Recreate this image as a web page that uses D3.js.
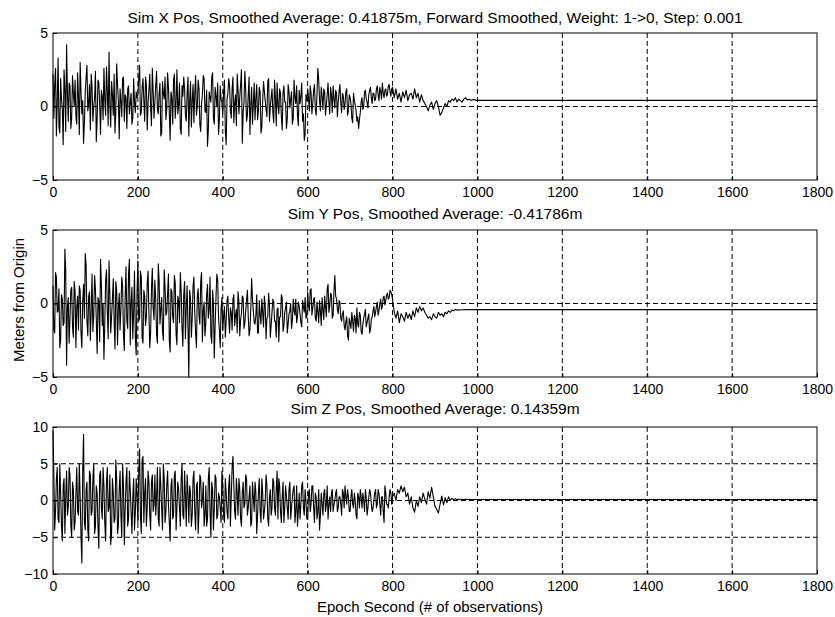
<!DOCTYPE html>
<html><head><meta charset="utf-8">
<script src="https://cdn.jsdelivr.net/npm/d3@7"></script>
<style>body{margin:0;background:#fff}text{font-family:"Liberation Sans",Arial,sans-serif;fill:#000}</style>
</head><body><svg id="chart" width="835" height="617"></svg>
<script>
// Hand-read samples: main arrays at epochs 0,4,...,996; "mid" arrays at epochs 2,6,...,798
const sampleStep = 4;
const midOffset = 2;

// Sim X Pos (m)
const xPosValues = [
 2.2,1.5,-2.0,3.3,-1.8,0.5,-2.6,1.2,4.2,-1.0, 1.4,-0.8,0.9,1.8,-1.2,0.6,3.0,-0.5,-2.5,1.0,
 2.8,0.2,-1.6,1.3,0.0,2.4,-0.9,1.6,-1.9,0.7, 2.6,-0.6,1.1,3.7,-1.4,0.8,2.2,-0.3,1.5,-2.2,
 0.4,1.9,-1.0,0.6,1.2,-0.5,0.9,-0.8,0.3,1.0,
 0.8,2.8,-0.4,1.9,-1.0,1.5,0.2,2.2,-1.3,1.0, 0.3,2.4,-0.5,1.6,-1.8,0.9,2.0,-0.2,1.3,-2.3,
 0.6,1.8,-0.8,2.5,0.1,-1.5,1.4,2.0,-0.6,0.9, -2.0,1.7,0.4,-1.1,2.1,0.0,1.2,-1.7,0.8,1.9,
 -0.4,-2.7,1.0,0.3,2.3,-1.2,0.7,1.6,-0.9,0.5,
 -0.5,1.8,-2.6,0.9,1.4,-0.8,2.0,0.2,-1.3,1.1, 0.6,2.5,-0.4,2.4,-1.0,0.8,-1.9,1.3,0.1,-0.9,
 1.5,-0.3,1.0,-1.4,1.7,0.4,-0.7,1.9,0.0,1.2, -1.1,0.6,1.6,-0.5,0.9,-1.6,1.4,0.3,-0.8,1.0,
 0.5,-1.2,1.8,0.2,-0.6,1.1,0.7,-1.0,-2.3,0.8,
 1.2,-0.3,0.9,0.2,1.5,-0.6,2.6,0.4,1.3,-0.2, 1.0,0.1,1.6,-0.5,0.8,1.4,-0.1,0.9,0.3,1.5,
 -0.4,0.7,0.2,1.2,-0.3,0.6,-0.8,0.9,0.1,-1.0, -1.5,-0.4,0.6,0.0,1.1,0.3,0.8,1.3,0.2,0.9,
 0.5,1.4,0.4,1.0,1.6,0.6,1.2,0.8,1.5,0.7,
 1.3,0.6,1.2,0.5,0.9,0.3,1.0,0.6,1.1,0.4, 0.8,0.9,0.5,1.2,0.6,0.9,0.3,0.8,0.4,0.2,
 0.0,-0.3,0.1,0.3,-0.2,0.2,0.4,0.0,-0.6,-0.4, -0.1,0.2,0.0,0.4,0.3,0.5,0.4,0.6,0.3,0.5,
 0.4,0.3,0.5,0.6,0.45,0.5,0.42,0.45,0.48,0.42
];
const xPosMid = [
 -0.8,2.6,0.3,-1.4,1.9,-0.2,2.5,-1.7,0.9,1.6, -1.5,2.1,0.0,-0.7,2.3,-1.9,1.0,0.4,-1.1,2.0,
 -0.3,1.5,2.2,-1.0,0.6,-2.4,1.8,0.2,1.1,-0.9, 0.5,2.7,-1.3,0.1,1.7,-0.6,-1.8,2.9,0.3,1.2,
 -0.7,2.0,0.8,-1.5,1.4,0.2,-1.2,1.9,-0.4,0.6,
 1.9,-0.6,1.3,0.4,2.0,-1.6,1.1,0.0,2.6,-0.8, 1.4,-0.2,0.9,-2.0,1.7,0.5,-0.9,2.3,-0.4,1.0,
 -1.2,2.2,0.3,-0.5,1.6,-1.9,0.7,1.2,-1.0,2.0, 0.4,-1.4,1.5,0.9,-0.6,1.8,-1.2,0.2,2.1,-0.3,
 1.1,-1.6,0.6,2.0,-0.8,1.3,0.0,-1.9,1.4,0.3,
 1.0,-1.7,0.5,1.9,-0.3,1.2,-1.1,0.8,2.2,-0.5, 1.5,-2.5,0.3,1.1,-0.6,2.0,0.1,-1.2,1.6,0.6,
 -0.9,1.3,-1.8,0.4,1.0,-0.2,1.7,-1.0,0.6,-0.4, 1.8,-1.3,0.2,1.2,-0.7,0.9,0.3,-1.5,1.5,-0.1,
 1.0,-0.8,0.6,1.4,-1.3,0.2,1.6,-0.5,-1.9,0.4,
 0.6,1.4,-0.5,1.1,-0.2,0.9,1.8,-0.3,0.7,1.2, -0.6,0.8,0.3,1.3,-0.4,0.6,1.1,-0.7,1.0,0.2,
 0.9,-0.2,1.0,-0.6,0.8,0.2,-1.1,0.4,-0.3,-0.7, -0.9,0.3,-0.2,1.0,0.5,-0.1,1.1,0.6,0.9,0.4,
 1.2,0.8,1.3,0.5,0.9,1.1,0.7,1.4,1.0,1.2
];

// Sim Y Pos (m)
const yPosValues = [
 1.2,-2.0,1.8,-0.5,-3.0,0.6,-1.5,3.7,-4.2,0.4, -1.0,1.1,-2.3,0.8,-0.2,-1.8,0.9,-3.0,1.3,3.4,
 -1.2,0.5,-2.5,2.0,-0.8,1.0,-3.4,0.2,3.0,-1.5, -3.8,1.6,-0.6,2.9,-2.0,0.3,-1.1,1.5,-2.8,0.7,
 -0.4,1.2,-3.2,2.5,-1.7,3.0,0.1,-2.4,2.2,-3.5,
 2.9,-1.0,1.8,-2.7,0.5,-0.9,2.2,-3.0,1.0,-0.3, 1.6,-2.1,2.7,-1.4,0.4,-2.5,1.1,-0.6,2.0,-3.3,
 0.8,-1.3,1.4,-2.8,0.2,2.1,-1.7,0.6,-2.4,1.2, -5.0,0.3,-1.0,1.8,-2.0,0.5,-0.8,1.5,-2.6,0.1,
 -1.4,1.3,-0.5,-2.2,0.9,-3.7,0.4,1.6,-1.8,-0.3,
 -1.8,-0.2,-1.2,0.5,-2.0,-0.6,0.3,-1.5,-0.4,0.8, -2.2,-0.7,0.4,-1.3,0.2,-0.9,-1.8,1.7,-0.5,-1.4,
 0.6,-2.0,-0.8,0.3,-1.6,-0.2,-1.0,0.7,-2.3,-0.6, 0.1,-1.2,-0.4,-2.6,-0.9,0.4,-1.5,-0.3,-2.0,-0.7,
 0.0,-1.1,-0.5,0.3,-0.9,-0.2,-1.3,0.2,-0.6,-1.0,
 0.8,-0.5,1.0,-0.3,0.4,-1.2,-0.6,0.2,-1.5,-0.4, 0.5,-0.9,1.3,-0.2,0.6,-0.8,1.9,0.3,-0.7,0.1,
 -1.2,-0.5,-1.8,-0.9,-2.5,-1.3,-0.6,-1.9,-1.0,-0.3, -1.6,-0.8,-2.1,-1.0,-0.4,-1.3,-0.7,-1.8,-0.9,-0.2,
 -0.6,0.1,-0.5,0.3,-0.2,0.5,0.2,0.7,0.4,0.8,
 0.3,-0.6,-1.0,-0.5,-1.3,-0.7,-0.9,-1.2,-0.6,-1.0, -0.7,-1.1,-0.5,-0.9,-0.3,-0.6,-0.2,-0.5,-0.3,-0.6,
 -0.8,-1.0,-0.9,-1.1,-0.7,-0.9,-1.0,-0.6,-0.8,-0.7, -0.9,-0.6,-0.7,-0.5,-0.6,-0.45,-0.5,-0.4,-0.45,-0.42,
 -0.44,-0.42,-0.43,-0.41,-0.42,-0.42,-0.41,-0.42,-0.42,-0.42
];
const yPosMid = [
 -1.8,2.1,-0.6,1.0,-2.5,0.3,-1.3,2.2,-0.2,-2.7, 0.9,-1.6,1.5,-3.0,0.5,1.2,-2.0,0.2,-1.0,2.6,
 -2.2,0.8,-0.5,-1.9,1.9,-1.1,0.4,-2.6,1.3,0.0, -1.4,2.3,-2.4,0.6,-0.9,1.7,-3.1,0.9,-0.3,-1.8,
 1.8,-2.1,0.4,-1.2,2.0,-2.8,1.1,-0.6,-2.3,0.7,
 -1.2,2.2,-2.3,0.9,-1.5,1.4,-0.7,-2.0,2.4,-1.1, 0.3,-2.7,1.6,-0.4,-1.9,2.3,-0.8,0.7,-2.5,1.0,
 -0.9,1.9,-2.1,0.5,-1.3,0.8,-2.9,1.5,-0.2,-1.6, 0.9,-2.3,1.2,-0.6,-3.0,1.0,-1.4,2.1,-0.5,-2.2,
 0.6,-1.0,1.8,-2.7,0.0,-1.5,2.0,-0.9,-3.0,0.4,
 -0.9,-2.3,0.2,-1.0,-0.3,-1.8,0.6,-0.8,-2.0,0.1, -1.1,0.5,-1.7,-0.5,0.9,-2.2,-0.4,0.3,-1.3,-0.8,
 -2.0,0.2,-1.4,-0.6,0.5,-2.4,-0.9,-0.1,-1.5,0.3, -1.2,-2.3,-0.3,-0.9,0.6,-1.9,-0.6,0.1,-1.4,-0.5,
 -1.7,0.3,-0.8,-1.3,0.1,-0.7,-1.6,-0.2,0.4,-0.9,
 -0.2,0.9,-0.8,0.3,-1.0,0.1,-1.3,-0.5,0.4,-1.1, -0.2,1.0,-0.6,0.7,-1.0,0.9,0.5,-0.4,0.2,-1.0,
 -0.7,-1.5,-1.2,-2.2,-1.0,-1.7,-1.2,-0.8,-2.0,-1.4, -0.6,-1.9,-1.4,-0.7,-1.6,-1.0,-2.0,-1.1,-0.5,-0.9,
 -0.2,-0.8,0.0,-0.4,0.4,-0.1,0.6,0.3,0.9,0.6
];

// Sim Z Pos (m)
const zPosValues = [
 9.5,-4.0,3.0,-2.5,5.0,-3.5,2.0,-4.5,4.0,-1.0, 3.5,-5.0,1.5,-3.0,4.5,-2.0,0.5,-8.5,9.0,-4.0,
 2.5,-5.5,3.5,-1.5,5.0,-3.5,1.0,-6.5,4.0,-2.5, 2.0,-5.5,4.5,-1.0,-6.0,3.0,-3.0,5.5,-4.5,1.5,
 -2.0,5.0,-6.0,2.5,-3.5,4.0,-1.5,0.5,-4.0,3.0,
 -3.0,7.0,-4.5,6.0,1.0,-3.5,4.0,-2.0,2.5,-1.5, 3.5,0.5,-2.5,4.5,-1.0,5.0,-3.0,2.0,-0.5,-5.5,
 3.0,-2.0,4.0,-1.0,1.5,-3.5,5.0,-2.5,0.5,3.5, -3.0,1.0,-2.0,4.0,-4.0,2.5,-1.5,3.0,0.0,-3.5,
 2.0,-2.5,4.5,-5.0,1.5,-1.0,3.0,-2.0,0.5,-3.0,
 2.0,-3.0,1.0,-2.5,3.5,0.5,6.0,-1.5,3.0,-2.0, 1.5,-3.5,2.5,-0.5,3.0,-1.0,2.0,-3.0,0.5,2.5,
 -4.5,1.0,-1.5,3.0,-2.5,0.0,2.0,-3.5,1.5,-1.0, 2.5,-2.0,4.0,3.0,-1.5,0.5,-3.0,2.0,-1.0,1.5,
 -2.5,0.5,2.0,-1.5,-3.5,1.0,-0.5,2.5,-2.0,0.0,
 -2.5,1.5,-0.5,2.0,-3.0,0.5,-1.5,-4.0,1.0,-2.0, 1.5,-0.5,-2.5,0.5,1.0,-1.5,0.0,1.5,-1.0,0.5,
 -2.0,1.0,2.0,-0.5,0.5,-1.5,1.5,-1.0,0.0,-2.5, 0.5,1.5,-1.0,0.0,1.5,-2.0,0.5,1.0,-1.5,0.0,
 1.5,-0.5,1.0,-2.0,0.5,-3.0,1.0,-0.5,0.5,1.0,
 0.5,1.0,0.0,1.5,1.0,2.0,1.2,1.8,0.5,1.0, -0.5,0.5,-1.0,-1.6,0.0,-0.8,0.5,-0.3,1.0,0.2,
 -0.5,1.2,0.3,1.8,0.5,-0.8,-1.2,-1.7,-0.5,0.6, -0.6,0.4,-0.3,0.5,0.0,0.3,0.1,0.25,0.1,0.2,
 0.12,0.16,0.14,0.15,0.14,0.14,0.14,0.14,0.14,0.14
];
const zPosMid = [
 3.5,-1.5,4.5,-3.0,1.0,-5.5,3.0,0.5,-2.0,4.5, -3.5,2.5,-4.0,1.0,-1.5,5.0,-5.0,4.0,-3.0,1.5,
 -4.0,4.0,-2.0,3.0,-4.5,2.0,-3.5,3.5,-1.0,4.5, -3.0,2.5,-1.5,3.5,-4.5,1.0,-2.5,3.0,-3.5,4.0,
 -5.0,2.0,-1.0,4.5,-2.5,1.5,-4.5,3.0,-1.5,0.5,
 4.0,-2.0,5.5,-3.0,3.0,-1.0,2.5,-4.0,3.5,-0.5, -2.0,4.5,-3.5,2.0,-4.0,3.0,-1.5,4.0,-3.0,2.0,
 -2.5,3.5,-4.0,2.5,-1.0,3.0,-2.0,4.0,-3.5,1.0, 2.0,-3.5,3.0,-1.5,2.0,-4.5,3.5,-1.0,2.5,-2.0,
 -3.5,3.0,-1.5,2.5,-4.0,3.5,-2.5,1.0,-1.0,4.0,
 -2.0,3.0,-1.5,2.0,-3.5,4.5,2.0,-2.5,1.0,3.0, -2.5,1.0,-1.0,3.5,-2.0,0.5,-3.5,2.5,-1.5,1.0,
 -2.0,3.0,-3.0,1.0,-1.5,3.5,-2.5,0.5,-2.0,3.0, -1.0,1.5,-2.5,2.0,-3.0,2.5,-1.0,0.5,-2.5,2.5,
 -1.0,1.5,-3.0,2.0,-1.5,-2.5,2.0,-1.0,1.5,-2.5,
 1.0,-1.5,2.0,-1.0,1.0,-2.5,1.5,-2.0,-0.5,1.0, -1.5,2.0,-0.5,-1.5,1.5,-0.5,1.0,-1.5,0.5,-0.5,
 1.5,-1.0,0.5,1.5,-1.5,0.5,-0.5,1.0,-2.0,1.0, -1.0,0.5,1.0,-1.5,0.5,-1.0,1.5,-0.5,-1.0,1.0,
 -1.0,1.5,-0.5,0.5,-1.5,2.0,-0.5,-1.0,1.5,-0.5
];

const smoothedAverages = [0.41875, -0.41786, 0.14359];
const flatEpochs = [1000, 1800];
const titles = [
 "Sim X Pos, Smoothed Average: 0.41875m, Forward Smoothed, Weight: 1->0, Step: 0.001",
 "Sim Y Pos, Smoothed Average: -0.41786m",
 "Sim Z Pos, Smoothed Average: 0.14359m"
];
const xTickValues = [0,200,400,600,800,1000,1200,1400,1600,1800];
const yTickValues = [[-5,0,5],[-5,0,5],[-10,-5,0,5,10]];
const yDomains = [[-5,5],[-5,5],[-10,10]];
const yAxisLabel = "Meters from Origin";
const xAxisLabel = "Epoch Second (# of observations)";

const svg = d3.select("#chart");
const left = 53, right = 817;
const panels = [{top:33,bottom:180,titleY:23},{top:230,bottom:377,titleY:219},{top:427,bottom:574,titleY:414}];
const seriesList = [[xPosValues,xPosMid],[yPosValues,yPosMid],[zPosValues,zPosMid]];

const x = d3.scaleLinear().domain([0,1800]).range([left,right]);

panels.forEach((p, k) => {
  const y = d3.scaleLinear().domain(yDomains[k]).range([p.bottom, p.top]);
  const g = svg.append("g");

  // dashed grid
  g.selectAll(".vg").data(xTickValues.filter(t => t>0 && t<1800)).join("line")
    .attr("x1", d=>x(d)).attr("x2", d=>x(d)).attr("y1", p.top).attr("y2", p.bottom)
    .attr("stroke","#000").attr("stroke-width",1).attr("stroke-dasharray","5,3");
  g.selectAll(".hg").data(yTickValues[k].filter(t => t>yDomains[k][0] && t<yDomains[k][1])).join("line")
    .attr("x1", left).attr("x2", right).attr("y1", d=>y(d)).attr("y2", d=>y(d))
    .attr("stroke","#000").attr("stroke-width",1).attr("stroke-dasharray","5,3");

  // data
  const [main, mid] = seriesList[k];
  const pts = main.map((v,i)=>[i*sampleStep, v])
    .concat(mid.map((v,i)=>[i*sampleStep+midOffset, v]));
  flatEpochs.forEach(e => pts.push([e, smoothedAverages[k]]));
  pts.sort((a,b)=>a[0]-b[0]);
  g.append("path").datum(pts)
    .attr("d", d3.line().x(d=>x(d[0])).y(d=>y(d[1])))
    .attr("fill","none").attr("stroke","#000").attr("stroke-width",1.1).attr("stroke-linejoin","round");

  // axes
  const xa = g.append("g").attr("transform",`translate(0,${p.bottom})`)
    .call(d3.axisBottom(x).tickValues(xTickValues).tickSize(-4).tickPadding(7).tickFormat(d3.format("d")));
  const ya = g.append("g").attr("transform",`translate(${left},0)`)
    .call(d3.axisLeft(y).tickValues(yTickValues[k]).tickSize(-4).tickPadding(5).tickFormat(d3.format("d")));
  [xa, ya].forEach(a => {
    a.select(".domain").remove();
    a.selectAll("text").style("font-size","14px");
    a.selectAll("line").attr("stroke","#000");
  });
  // border
  g.append("rect").attr("x",left).attr("y",p.top).attr("width",right-left).attr("height",p.bottom-p.top)
    .attr("fill","none").attr("stroke","#000").attr("stroke-width",1);

  // title
  g.append("text").attr("x",(left+right)/2).attr("y",p.titleY).attr("text-anchor","middle")
    .style("font-size","15.5px").text(titles[k]);
});

svg.append("text").attr("transform","translate(24,300) rotate(-90)").attr("text-anchor","middle")
  .style("font-size","15px").text(yAxisLabel);
svg.append("text").attr("x",430).attr("y",612).attr("text-anchor","middle")
  .style("font-size","15px").text(xAxisLabel);
</script></body></html>
